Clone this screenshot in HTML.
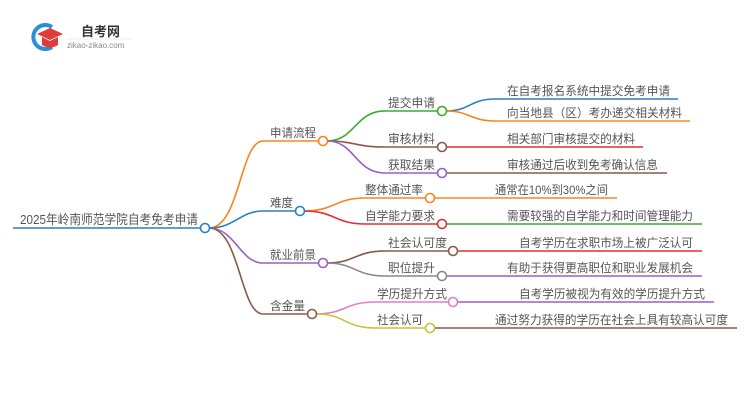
<!DOCTYPE html>
<html><head><meta charset="utf-8"><style>
html,body{margin:0;padding:0;background:#fff;}
svg{display:block;}
text{font-family:"Liberation Sans","Noto Sans CJK SC",sans-serif;fill:#555;}
</style></head><body>
<svg width="750" height="410" viewBox="0 0 750 410" xmlns="http://www.w3.org/2000/svg">
<g>
<path d="M52 27 A12 12 0 1 0 52 47" fill="none" stroke="#2a8fd6" stroke-width="4"/>
<path d="M37 34 L50 28 L63 34 L50 40 Z" fill="#e23b3b"/>
<path d="M42 37 L42 45 Q50 50 58 45 L58 37 L50 41 Z" fill="#e23b3b"/>
<text x="81" y="36" font-size="13" font-weight="bold" style="fill:#333">自考网</text>
<line x1="66" y1="39" x2="131" y2="39" stroke="#ddd" stroke-width="0.6"/>
<text x="67" y="48" font-size="8" style="fill:#888">zikao-zikao.com</text>
</g>
<g fill="none" stroke-width="1.6">
<line x1="13" y1="228" x2="201" y2="228" stroke="#2a7fc4"/>
<path d="M209 228 C240 228,240 141,263 141 L319 141" stroke="#f7851e"/>
<path d="M209 228 C235 228,240 211,263 211 L296 211" stroke="#2a7fc4"/>
<path d="M209 228 C235 228,240 263,263 263 L319 263" stroke="#9a5fc8"/>
<path d="M209 228 C240 228,240 314,263 314 L308 314" stroke="#8a5a48"/>
<path d="M327 141 C355 141,355 111,385 111 L438 111" stroke="#3aaa35"/>
<path d="M327 141 C355 141,355 147,385 147 L438 147" stroke="#8a5a48"/>
<path d="M327 141 C355 141,355 173,385 173 L438 173" stroke="#9a5fc8"/>
<path d="M304 211 C335 211,335 198,365 198 L426 198" stroke="#f7851e"/>
<path d="M304 211 C335 211,335 224,365 224 L438 224" stroke="#e0302f"/>
<path d="M327 263 C355 263,355 251,385 251 L449 251" stroke="#8a5a48"/>
<path d="M327 263 C355 263,355 276,385 276 L438 276" stroke="#888"/>
<path d="M316 314 C345 314,345 302,375 302 L449 302" stroke="#e47bc8"/>
<path d="M316 314 C345 314,345 328,375 328 L426 328" stroke="#c5c53a"/>
<path d="M446 111 C470 111,470 99,495 99 L678 99" stroke="#2a7fc4"/>
<path d="M446 111 C470 111,470 121,495 121 L690 121" stroke="#f7851e"/>
<line x1="446" y1="147" x2="643" y2="147" stroke="#e0302f"/>
<line x1="446" y1="173" x2="667" y2="173" stroke="#8a5a48"/>
<line x1="434" y1="198" x2="617" y2="198" stroke="#f7851e"/>
<line x1="446" y1="224" x2="702" y2="224" stroke="#3aaa35"/>
<line x1="457" y1="251" x2="702" y2="251" stroke="#e0302f"/>
<line x1="446" y1="276" x2="702" y2="276" stroke="#9a5fc8"/>
<line x1="457" y1="302" x2="714" y2="302" stroke="#9a5fc8"/>
<line x1="434" y1="328" x2="737" y2="328" stroke="#8a5a48"/>
</g>
<g fill="#fff" stroke-width="1.6">
<circle cx="205" cy="228" r="4.5" stroke="#2a7fc4"/>
<circle cx="323" cy="141" r="4.5" stroke="#f7851e"/>
<circle cx="300" cy="211" r="4.5" stroke="#2a7fc4"/>
<circle cx="323" cy="263" r="4.5" stroke="#9a5fc8"/>
<circle cx="312" cy="314" r="4.5" stroke="#8a5a48"/>
<circle cx="442" cy="111" r="4.5" stroke="#3aaa35"/>
<circle cx="442" cy="147" r="4.5" stroke="#8a5a48"/>
<circle cx="442" cy="173" r="4.5" stroke="#9a5fc8"/>
<circle cx="430" cy="198" r="4.5" stroke="#f7851e"/>
<circle cx="442" cy="224" r="4.5" stroke="#e0302f"/>
<circle cx="453" cy="251" r="4.5" stroke="#8a5a48"/>
<circle cx="442" cy="276" r="4.5" stroke="#888"/>
<circle cx="453" cy="302" r="4.5" stroke="#e47bc8"/>
<circle cx="430" cy="328" r="4.5" stroke="#c5c53a"/>
</g>
<g font-size="12" lengthAdjust="spacingAndGlyphs">
<text x="20" y="224" font-size="13" textLength="178" lengthAdjust="spacingAndGlyphs">2025年岭南师范学院自考免考申请</text>
<text x="270" y="137" textLength="46" lengthAdjust="spacingAndGlyphs">申请流程</text>
<text x="270" y="207" textLength="23" lengthAdjust="spacingAndGlyphs">难度</text>
<text x="270" y="259" textLength="46" lengthAdjust="spacingAndGlyphs">就业前景</text>
<text x="270" y="310" textLength="35" lengthAdjust="spacingAndGlyphs">含金量</text>
<text x="388" y="107" textLength="47" lengthAdjust="spacingAndGlyphs">提交申请</text>
<text x="388" y="143" textLength="47" lengthAdjust="spacingAndGlyphs">审核材料</text>
<text x="388" y="169" textLength="47" lengthAdjust="spacingAndGlyphs">获取结果</text>
<text x="365" y="194" textLength="58" lengthAdjust="spacingAndGlyphs">整体通过率</text>
<text x="365" y="220" textLength="70" lengthAdjust="spacingAndGlyphs">自学能力要求</text>
<text x="388" y="247" textLength="59" lengthAdjust="spacingAndGlyphs">社会认可度</text>
<text x="388" y="272" textLength="47" lengthAdjust="spacingAndGlyphs">职位提升</text>
<text x="377" y="298" textLength="70" lengthAdjust="spacingAndGlyphs">学历提升方式</text>
<text x="377" y="324" textLength="46" lengthAdjust="spacingAndGlyphs">社会认可</text>
<text x="507" y="95" textLength="163" lengthAdjust="spacingAndGlyphs">在自考报名系统中提交免考申请</text>
<text x="507" y="117" textLength="175" lengthAdjust="spacingAndGlyphs">向当地县（区）考办递交相关材料</text>
<text x="507" y="143" textLength="128" lengthAdjust="spacingAndGlyphs">相关部门审核提交的材料</text>
<text x="507" y="169" textLength="151" lengthAdjust="spacingAndGlyphs">审核通过后收到免考确认信息</text>
<text x="495" y="194" textLength="113" lengthAdjust="spacingAndGlyphs">通常在10%到30%之间</text>
<text x="507" y="220" textLength="186" lengthAdjust="spacingAndGlyphs">需要较强的自学能力和时间管理能力</text>
<text x="519" y="247" textLength="174" lengthAdjust="spacingAndGlyphs">自考学历在求职市场上被广泛认可</text>
<text x="507" y="272" textLength="186" lengthAdjust="spacingAndGlyphs">有助于获得更高职位和职业发展机会</text>
<text x="519" y="298" textLength="186" lengthAdjust="spacingAndGlyphs">自考学历被视为有效的学历提升方式</text>
<text x="495" y="324" textLength="233" lengthAdjust="spacingAndGlyphs">通过努力获得的学历在社会上具有较高认可度</text>
</g>
</svg>
</body></html>
